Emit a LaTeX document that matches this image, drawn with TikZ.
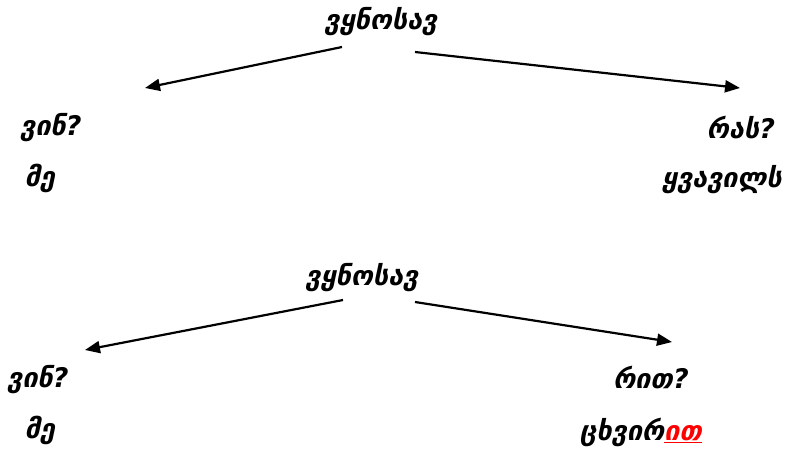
\documentclass[tikz,border=0pt]{standalone}
\usepackage{fontspec}
\newfontfamily\geo{DejaVu Sans}
\usepackage{xcolor}
\usetikzlibrary{arrows.meta}
\begin{document}
\begin{tikzpicture}[x=1pt,y=-1pt,
  word/.style={font=\geo\bfseries\itshape\fontsize{27}{30}\selectfont, inner sep=0pt, anchor=center},
  arr/.style={-{Triangle[length=15pt,width=12pt]}, line width=2.2pt}]
\useasboundingbox (0,0) rectangle (795,461);
% top
\node[word] (t1) at (381,22) {ვყნოსავ};
\coordinate (t1l) at (342,47);
\coordinate (t1r) at (415,52);
\node[word] (a1) at (51,128) {ვინ?};
\node[word] (a2) at (40,178) {მე};
\node[word] (b1) at (741,127) {რას?};
\node[word] (b2) at (722,180) {ყვავილს};
\coordinate (e1) at (145,88);
\coordinate (e2) at (740,88);
\draw[arr] (t1l) -- (e1);
\draw[arr] (t1r) -- (e2);
% bottom
\node[word] (t2) at (362,278) {ვყნოსავ};
\coordinate (t2l) at (343,300);
\coordinate (t2r) at (415,302);
\node[word] (c1) at (38,380) {ვინ?};
\node[word] (c2) at (40,430) {მე};
\node[word] (d1) at (651,377) {რით?};
\node[word] (d2) at (641,432) {ცხვირ\textcolor{red}{\underline{ით}}};
\coordinate (e3) at (85,350);
\coordinate (e4) at (672,342);
\draw[arr] (t2l) -- (e3);
\draw[arr] (t2r) -- (e4);
\end{tikzpicture}
\end{document}
